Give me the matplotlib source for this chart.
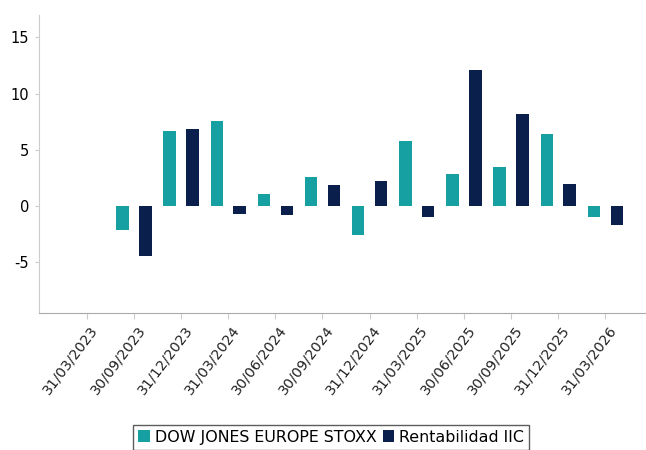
import numpy as np
import matplotlib.pyplot as plt
from matplotlib.transforms import ScaledTranslation

plt.rcParams["axes.unicode_minus"] = False

fechas = ["31/03/2023", "30/09/2023", "31/12/2023", "31/03/2024", "30/06/2024",
          "30/09/2024", "31/12/2024", "31/03/2025", "30/06/2025", "30/09/2025",
          "31/12/2025", "31/03/2026"]
stoxx = [np.nan, -2.1, 6.7, 7.6, 1.1, 2.6, -2.6, 5.8, 2.9, 3.5, 6.4, -1.0]
iic = [np.nan, -4.4, 6.9, -0.7, -0.8, 1.9, 2.2, -1.0, 12.1, 8.2, 2.0, -1.7]

teal = "#16a0a2"
navy = "#0b1f4d"

fig = plt.figure(figsize=(6.46, 4.5), dpi=100)
ax = fig.add_axes([39 / 646, 1 - 313 / 450, 1 - 39 / 646 + 0.01, (313 - 15) / 450])

x = np.arange(len(fechas))
w = 0.265
ax.bar(x - 0.24, stoxx, w, color=teal, label="DOW JONES EUROPE STOXX")
ax.bar(x + 0.245, iic, w, color=navy, label="Rentabilidad IIC")

ax.set_xlim(-1.01, 12.0)
ax.set_ylim(-9.5, 17)
ax.set_yticks([-5, 0, 5, 10, 15])
ax.set_xticks(x)
ax.set_xticklabels(fechas, rotation=53, ha="right", rotation_mode="anchor", fontsize=10.3,
                   color="#222222")
ax.tick_params(axis="y", labelsize=10.5, length=3, color="#cccccc", pad=4)
ax.tick_params(axis="x", length=4, color="#cccccc", pad=3)
shift = ScaledTranslation(3 / 100, 0, fig.dpi_scale_trans)
for lab in ax.get_xticklabels():
    lab.set_transform(lab.get_transform() + shift)

for s in ["top", "right"]:
    ax.spines[s].set_visible(False)
ax.spines["left"].set_color("#cccccc")
ax.spines["bottom"].set_color("#aaaaaa")

leg = fig.legend(loc="upper center", bbox_to_anchor=(331 / 646, 1 - 425 / 450), ncol=2,
                 fontsize=11.4, handlelength=0.75, handleheight=0.75, handletextpad=0.3,
                 columnspacing=0.4, borderpad=0.3, borderaxespad=0, fancybox=False,
                 frameon=True)
leg.get_frame().set_edgecolor("#333333")
leg.get_frame().set_linewidth(1.0)

fig.savefig("out.png", dpi=100)
